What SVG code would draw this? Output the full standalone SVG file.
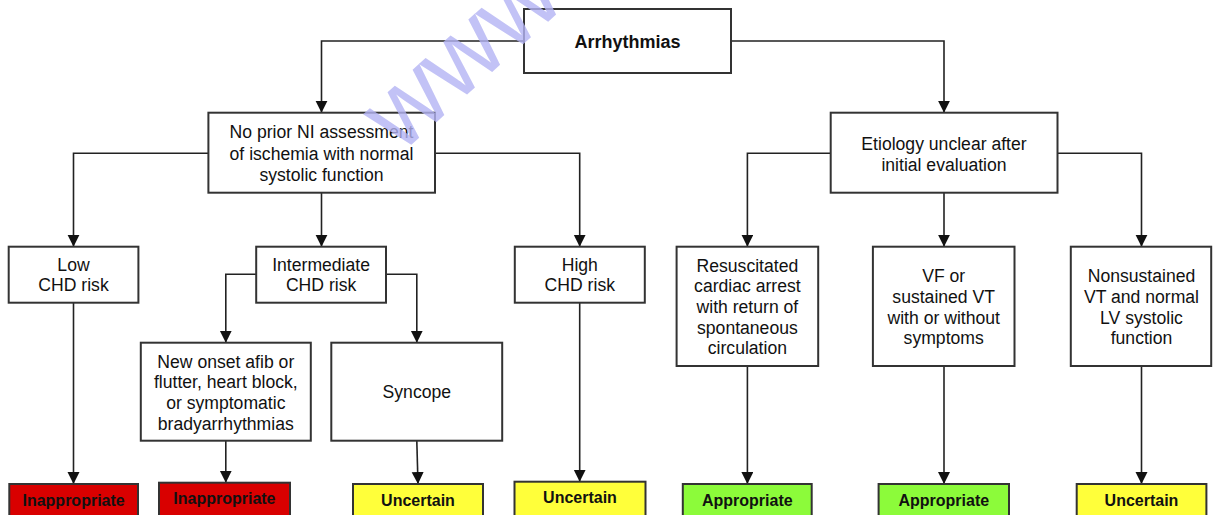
<svg xmlns="http://www.w3.org/2000/svg" width="1213" height="515" viewBox="0 0 1213 515">
<defs>
<marker id="ah" markerUnits="userSpaceOnUse" markerWidth="12" markerHeight="13" viewBox="0 0 12 13" refX="12" refY="6" orient="auto">
<path d="M0,0 L12,6 L0,12 Z" fill="#111"/>
</marker>
<style>
.box{fill:#fff;stroke:#333;stroke-width:2}
.red{fill:#d90000;stroke:#333;stroke-width:2}
.yel{fill:#ffff3a;stroke:#333;stroke-width:2}
.grn{fill:#8cfb3a;stroke:#333;stroke-width:2}
.t{font-family:"Liberation Sans",Arial,sans-serif;font-size:17.6px;fill:#111;text-anchor:middle}
.b{font-family:"Liberation Sans",Arial,sans-serif;font-size:16px;font-weight:bold;fill:#111;text-anchor:middle}
.c{fill:none;stroke:#222;stroke-width:1.6;marker-end:url(#ah)}
.wm{font-family:"Liberation Sans",Arial,sans-serif;font-size:104px;fill:#b4b4f4;opacity:0.8}
</style>
</defs>
<rect width="1213" height="515" fill="#fff"/>
<g id="connectors">
<path class="c" d="M524,41 H321.5 V112.7"/>
<path class="c" d="M731,41 H944 V112.7"/>
<path class="c" d="M208.4,153.3 H73.5 V246.7"/>
<path class="c" d="M321.5,192.7 V246.7"/>
<path class="c" d="M435,153.3 H579.7 V246.7"/>
<path class="c" d="M256.2,274.3 H225.8 V342.7"/>
<path class="c" d="M386,274.3 H416.8 V342.7"/>
<path class="c" d="M73.5,302.7 V484"/>
<path class="c" d="M225.8,440.7 V482.7"/>
<path class="c" d="M416.8,440.7 L418,484"/>
<path class="c" d="M579.7,302.7 V481.7"/>
<path class="c" d="M830.7,153.3 H747.4 V246.7"/>
<path class="c" d="M944,192.7 V246.7"/>
<path class="c" d="M1057.5,153.3 H1141.5 V246.7"/>
<path class="c" d="M747.4,366 V484"/>
<path class="c" d="M944,366 V484"/>
<path class="c" d="M1141.5,366 V484"/>
</g>
<g id="arrhythmias">
<rect class="box" x="524" y="9" width="207" height="64"/>
<text class="b" style="font-size:18px" x="627.5" y="48.3">Arrhythmias</text>
</g>
<g id="no-prior">
<rect class="box" x="208.4" y="112.7" width="226.6" height="80"/>
<text class="t" x="321.5" y="138.3">No prior NI assessment</text>
<text class="t" x="321.5" y="159.5">of ischemia with normal</text>
<text class="t" x="321.5" y="180.7">systolic function</text>
</g>
<g id="etiology">
<rect class="box" x="830.7" y="112.7" width="226.8" height="80"/>
<text class="t" x="944" y="150">Etiology unclear after</text>
<text class="t" x="944" y="170.7">initial evaluation</text>
</g>
<g id="low">
<rect class="box" x="8.7" y="246.7" width="129.7" height="56"/>
<text class="t" x="73.5" y="271">Low</text>
<text class="t" x="73.5" y="291">CHD risk</text>
</g>
<g id="intermediate">
<rect class="box" x="256.2" y="246.7" width="129.8" height="56"/>
<text class="t" x="321.1" y="271">Intermediate</text>
<text class="t" x="321.1" y="291">CHD risk</text>
</g>
<g id="high">
<rect class="box" x="514.8" y="246.7" width="130" height="56"/>
<text class="t" x="579.8" y="271">High</text>
<text class="t" x="579.8" y="291">CHD risk</text>
</g>
<g id="new-onset">
<rect class="box" x="140.8" y="342.7" width="170" height="98"/>
<text class="t" x="225.8" y="367.7">New onset afib or</text>
<text class="t" x="225.8" y="388.3">flutter, heart block,</text>
<text class="t" x="225.8" y="409">or symptomatic</text>
<text class="t" x="225.8" y="429.6">bradyarrhythmias</text>
</g>
<g id="syncope">
<rect class="box" x="331.3" y="342.7" width="170.9" height="98"/>
<text class="t" x="416.8" y="398.3">Syncope</text>
</g>
<g id="resuscitated">
<rect class="box" x="676.6" y="246.7" width="141.6" height="119.3"/>
<text class="t" x="747.4" y="271.7">Resuscitated</text>
<text class="t" x="747.4" y="292.3">cardiac arrest</text>
<text class="t" x="747.4" y="313">with return of</text>
<text class="t" x="747.4" y="333.6">spontaneous</text>
<text class="t" x="747.4" y="354.3">circulation</text>
</g>
<g id="vf">
<rect class="box" x="872.9" y="246.7" width="141.6" height="119.3"/>
<text class="t" x="943.7" y="282.3">VF or</text>
<text class="t" x="943.7" y="303">sustained VT</text>
<text class="t" x="943.7" y="323.7">with or without</text>
<text class="t" x="943.7" y="344.3">symptoms</text>
</g>
<g id="nonsustained">
<rect class="box" x="1070.8" y="246.7" width="140.4" height="119.3"/>
<text class="t" x="1141.5" y="282.3">Nonsustained</text>
<text class="t" x="1141.5" y="303">VT and normal</text>
<text class="t" x="1141.5" y="323.7">LV systolic</text>
<text class="t" x="1141.5" y="344.3">function</text>
</g>
<g id="r-low">
<rect class="red" x="9.3" y="484" width="128.7" height="38"/>
<text class="b" x="73.6" y="506">Inappropriate</text>
</g>
<g id="r-newonset">
<rect class="red" x="159" y="482.7" width="131" height="38"/>
<text class="b" x="224.4" y="504.3">Inappropriate</text>
</g>
<g id="r-syncope">
<rect class="yel" x="353" y="484" width="130" height="38"/>
<text class="b" x="418" y="506">Uncertain</text>
</g>
<g id="r-high">
<rect class="yel" x="514.5" y="481.7" width="131" height="38"/>
<text class="b" x="580" y="503.3">Uncertain</text>
</g>
<g id="r-resus">
<rect class="grn" x="682.8" y="484" width="128.9" height="38"/>
<text class="b" x="747.3" y="506">Appropriate</text>
</g>
<g id="r-vf">
<rect class="grn" x="878.6" y="484" width="130.4" height="38"/>
<text class="b" x="943.8" y="506">Appropriate</text>
</g>
<g id="r-nonsus">
<rect class="yel" x="1076.7" y="484" width="129.7" height="38"/>
<text class="b" x="1141.5" y="506">Uncertain</text>
</g>
<text class="wm" x="400" y="155" transform="rotate(-42 400 155)">www</text>
</svg>
